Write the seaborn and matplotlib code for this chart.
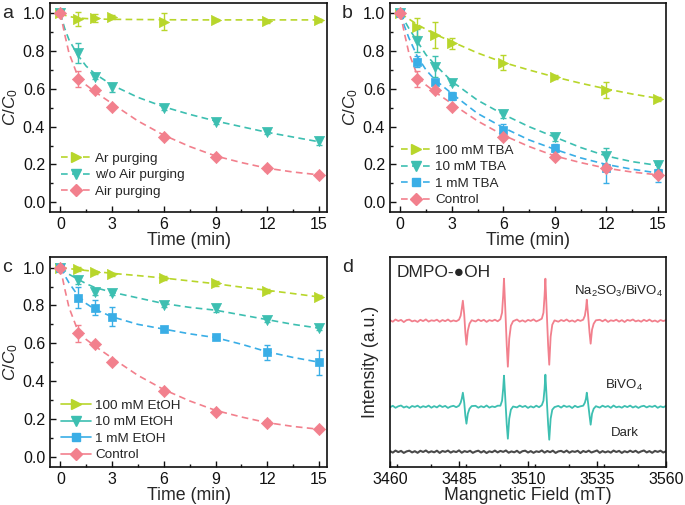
import numpy as np
import pandas as pd
import matplotlib
matplotlib.use("Agg")
import matplotlib.pyplot as plt
from matplotlib.lines import Line2D
from matplotlib.ticker import MultipleLocator
import seaborn as sns

# ---------------- data ----------------
T = [0, 1, 2, 3, 6, 9, 12, 15]
T_FIT = [0, 0.25, 0.5, 1, 1.5, 2, 3, 4.5, 6, 7.5, 9, 10.5, 12, 13.5, 15]

# panel a
a_labels = ["Ar purging", "w/o Air purging", "Air purging"]
a_ar = [1.0, 0.97, 0.975, 0.979, 0.955, 0.966, 0.958, 0.962]
a_ar_err = [0.0, 0.035, 0.02, 0.01, 0.045, 0.005, 0.008, 0.006]
a_ar_fit = [1.0, 0.99, 0.983, 0.975, 0.972, 0.97, 0.968, 0.967, 0.966, 0.965, 0.965, 0.965, 0.965, 0.965, 0.965]
a_wo = [1.0, 0.792, 0.661, 0.608, 0.497, 0.423, 0.370, 0.323]
a_wo_err = [0.0, 0.053, 0.01, 0.025, 0.01, 0.008, 0.008, 0.02]
a_wo_fit = [1.0, 0.92, 0.86, 0.78, 0.72, 0.68, 0.62, 0.555, 0.505, 0.465, 0.43, 0.40, 0.37, 0.345, 0.32]
control = [1.0, 0.653, 0.594, 0.503, 0.347, 0.238, 0.18, 0.145]
control_err = [0.0, 0.044, 0.01, 0.008, 0.01, 0.01, 0.012, 0.01]
control_fit = [1.0, 0.89, 0.79, 0.67, 0.62, 0.585, 0.522, 0.43, 0.355, 0.295, 0.245, 0.21, 0.18, 0.16, 0.145]

# panel b
b_labels = ["100 mM TBA", "10 mM TBA", "1 mM TBA", "Control"]
b_100 = [1.0, 0.929, 0.885, 0.841, 0.739, 0.661, 0.594, 0.547]
b_100_err = [0.0, 0.048, 0.068, 0.03, 0.04, 0.01, 0.042, 0.01]
b_100_fit = [1.0, 0.985, 0.97, 0.94, 0.915, 0.89, 0.85, 0.79, 0.74, 0.70, 0.663, 0.63, 0.60, 0.573, 0.55]
b_10 = [1.0, 0.855, 0.718, 0.63, 0.467, 0.344, 0.245, 0.196]
b_10_err = [0.0, 0.06, 0.056, 0.01, 0.02, 0.02, 0.04, 0.02]
b_10_fit = [1.0, 0.96, 0.92, 0.85, 0.78, 0.73, 0.64, 0.54, 0.465, 0.40, 0.345, 0.29, 0.245, 0.215, 0.195]
b_1 = [1.0, 0.744, 0.638, 0.563, 0.383, 0.286, 0.18, 0.157]
b_1_err = [0.0, 0.03, 0.01, 0.02, 0.03, 0.02, 0.078, 0.05]
b_1_fit = [1.0, 0.93, 0.87, 0.77, 0.70, 0.65, 0.575, 0.47, 0.395, 0.33, 0.28, 0.235, 0.20, 0.175, 0.155]

# panel c
c_labels = ["100 mM EtOH", "10 mM EtOH", "1 mM EtOH", "Control"]
c_100 = [1.0, 0.993, 0.975, 0.965, 0.944, 0.917, 0.878, 0.847]
c_100_err = [0.0, 0.01, 0.008, 0.008, 0.01, 0.012, 0.01, 0.01]
c_100_fit = [1.0, 0.998, 0.995, 0.99, 0.985, 0.98, 0.97, 0.958, 0.945, 0.93, 0.915, 0.897, 0.88, 0.863, 0.845]
c_10 = [1.0, 0.935, 0.873, 0.864, 0.802, 0.785, 0.723, 0.679]
c_10_err = [0.0, 0.02, 0.02, 0.01, 0.01, 0.02, 0.01, 0.01]
c_10_fit = [1.0, 0.985, 0.965, 0.94, 0.915, 0.895, 0.87, 0.84, 0.81, 0.79, 0.775, 0.75, 0.725, 0.70, 0.68]
c_1 = [1.0, 0.841, 0.788, 0.741, 0.675, 0.631, 0.552, 0.499]
c_1_err = [0.0, 0.057, 0.04, 0.05, 0.01, 0.01, 0.038, 0.065]
c_1_fit = [1.0, 0.96, 0.92, 0.855, 0.81, 0.78, 0.74, 0.70, 0.675, 0.65, 0.63, 0.595, 0.555, 0.525, 0.50]

# panel d (EPR spectra, intensity in arbitrary units, offsets are trace baselines)
d_labels = ["Na$_2$SO$_3$/BiVO$_4$", "BiVO$_4$", "Dark"]
FIELD = (list(range(3460, 3485))
         + [3485.0, 3485.6, 3486.0, 3486.4, 3486.9, 3487.3, 3487.7, 3488.2, 3488.8, 3489.6]
         + list(range(3491, 3500))
         + [3500.0, 3500.6, 3501.0, 3501.3, 3501.8, 3502.3, 3502.7, 3503.2, 3503.8, 3504.6]
         + list(range(3506, 3515))
         + [3515.0, 3515.6, 3516.0, 3516.3, 3516.8, 3517.3, 3517.7, 3518.2, 3518.8, 3519.6]
         + list(range(3521, 3530))
         + [3530.0, 3530.6, 3531.0, 3531.3, 3531.8, 3532.3, 3532.7, 3533.2, 3533.8, 3534.6]
         + list(range(3536, 3561)))
PINK_SPEC = ([0.5, -1.0, 1.2, -0.3, 0.8, -1.4, 0.6, 1.1, -0.7, 0.2, -1.2, 0.9, -0.4, 1.3, -0.9, 0.4, -0.2, 1.0, -1.1, 0.7, -0.5, 1.2, -0.8, 0.3, -0.6]
             + [1, 5, 12, 20, 6, -12, -24, -10, -3, 0.5]
             + [-0.8, 1.1, -0.4, 0.9, -1.2, 0.6, -0.3, 1.0, -0.6]
             + [1.5, 8, 25, 42, 10, -25, -46, -18, -5, -0.5]
             + [1.2, -0.9, 0.4, -1.1, 0.8, -0.2, 1.3, -0.7, 0.5]
             + [2, 8, 25, 42, 8, -25, -44, -16, -4, 0.3]
             + [-1.0, 0.7, -0.4, 1.2, -0.8, 0.3, -1.1, 0.9, -0.2]
             + [1, 5, 12, 21, 5, -12, -23, -9, -3, 0.4]
             + [0.9, -0.6, 1.1, -1.2, 0.4, -0.3, 1.0, -0.9, 0.6, -1.3, 0.8, -0.1, 1.2, -0.7, 0.3, -1.0, 0.9, -0.5, 1.1, -0.8, 0.2, -1.2, 0.7, -0.4, 0.6])
TEAL_SPEC = ([-0.6, 0.9, -1.1, 0.4, 1.2, -0.8, 0.3, -1.3, 0.7, -0.2, 1.0, -0.9, 0.5, -0.4, 1.1, -1.0, 0.6, -0.7, 1.3, -0.3, 0.8, -1.2, 0.2, 0.9, -0.5]
             + [1, 4, 8, 14, 4, -9, -17, -7, -2, 0.6]
             + [0.9, -1.0, 0.5, -0.6, 1.2, -0.9, 0.3, -0.4, 1.0]
             + [1, 6, 18, 31, 7, -18, -32, -12, -3, 0.2]
             + [-0.7, 1.1, -0.3, 0.8, -1.2, 0.4, -0.8, 1.0, -0.5]
             + [1.5, 6, 18, 32, 7, -18, -33, -12, -3, -0.4]
             + [0.8, -0.9, 1.1, -0.2, 0.6, -1.3, 0.9, -0.5, 0.4]
             + [1, 4, 8, 14, 3, -9, -18, -7, -2, 0.5]
             + [-0.9, 1.0, -0.3, 0.7, -1.1, 1.2, -0.6, 0.2, -1.0, 0.8, -0.4, 1.1, -0.8, 0.5, -1.2, 0.3, 0.9, -0.7, 0.6, -0.2, 1.0, -1.1, 0.4, -0.6, 0.8])
DARK_FIELD = list(range(3460, 3561))
DARK_SPEC = [0.6, -0.9, 1.1, -0.4, 0.8, -1.2, 0.3, 1.0, -0.7, 0.5,
             -1.1, 0.9, -0.3, 1.2, -0.8, 0.4, -0.6, 1.0, -1.2, 0.7,
             -0.2, 1.1, -0.9, 0.5, -0.4, 1.3, -1.0, 0.6, -0.3, 0.9,
             -1.1, 0.2, 1.0, -0.8, 0.7, -1.3, 0.4, -0.5, 1.1, -0.7,
             0.8, -0.2, 1.2, -1.0, 0.3, -0.6, 0.9, -1.2, 0.5, 1.0,
             -0.8, 0.6, -1.1, 0.4, -0.3, 1.2, -0.9, 0.7, -0.5, 1.0,
             -1.2, 0.3, 0.8, -0.6, 1.1, -1.0, 0.5, -0.2, 0.9, -1.3,
             0.7, -0.4, 1.0, -0.8, 0.2, 1.2, -1.1, 0.6, -0.7, 0.4,
             -0.9, 1.1, -0.3, 0.8, -1.2, 0.5, -0.6, 1.0, -0.4, 0.9,
             -1.0, 0.3, 1.2, -0.7, 0.6, -1.1, 0.8, -0.2, 1.0, -0.8,
             0.4]
D_OFFSETS = [146, 60, 15]

X_TICKS = [0, 3, 6, 9, 12, 15]
Y_TICKS = [0.0, 0.2, 0.4, 0.6, 0.8, 1.0]
D_TICKS = [3460, 3485, 3510, 3535, 3560]

# ---------------- style ----------------
GREEN = "#B8D62B"
TEAL = "#3DBFB1"
BLUE = "#3AAEE6"
PINK = "#F2808D"
DARK = "#4A4A4A"

sns.set_style("ticks")
plt.rcParams["font.family"] = ["Liberation Sans", "DejaVu Sans"]
plt.rcParams["mathtext.fontset"] = "custom"
plt.rcParams["mathtext.rm"] = "Liberation Sans"
plt.rcParams["mathtext.it"] = "Liberation Sans:italic"
plt.rcParams["lines.dashed_pattern"] = [4.0, 2.6]
plt.rcParams["axes.linewidth"] = 1.2
plt.rcParams["axes.edgecolor"] = "#111111"

fig = plt.figure(figsize=(6.85, 5.05), dpi=100)
W, H = 685.0, 505.0


def add_ax(x0, y0, x1, y1):
    return fig.add_axes([x0 / W, 1 - y1 / H, (x1 - x0) / W, (y1 - y0) / H])


ax_a = add_ax(50, 2.7, 327.3, 211.7)
ax_b = add_ax(390, 2.7, 666, 211.7)
ax_c = add_ax(50, 256.7, 327.3, 466.7)
ax_d = add_ax(390, 256.7, 666, 466.7)


def style_kinetic(ax, ylim):
    ax.set_xlim(-0.6, 15.48)
    ax.set_ylim(*ylim)
    ax.set_xticks(X_TICKS)
    ax.set_yticks(Y_TICKS)
    ax.set_yticklabels([f"{v:.1f}" for v in Y_TICKS])
    ax.xaxis.set_minor_locator(MultipleLocator(1.5))
    ax.yaxis.set_minor_locator(MultipleLocator(0.1))
    ax.tick_params(which="both", direction="in", labelsize=11.5, colors="#111111", width=1.0)
    ax.tick_params(which="major", length=4)
    ax.tick_params(which="minor", length=2)
    ax.set_xlabel("Time (min)", fontsize=12.8, labelpad=0)
    ax.set_ylabel("$C$/$C_0$", fontsize=12.3, labelpad=2)
    for s in ax.spines.values():
        s.set_visible(True)


def draw_series(ax, y, err, fit, color, marker, ms):
    sns.lineplot(x=T_FIT, y=fit, ax=ax, color=color, linestyle="--", linewidth=1.2, zorder=2)
    ax.errorbar(T, y, yerr=err, fmt="none", ecolor=color, elinewidth=1.0, capsize=2.5, capthick=1.0, zorder=3)
    sns.scatterplot(x=T, y=y, ax=ax, marker=marker, s=ms ** 2, color=color, edgecolor=color, linewidth=0.5, zorder=4)


def legend(ax, colors, markers, sizes, labels, ls, bbox):
    handles = [Line2D([], [], color=c, marker=m, markersize=s, linestyle=ls, linewidth=1.2)
               for c, m, s in zip(colors, markers, sizes)]
    ax.legend(handles, labels, loc="lower left", bbox_to_anchor=bbox, frameon=False,
              fontsize=9.7, handlelength=2.2, handletextpad=0.35, labelspacing=0.3,
              borderaxespad=0.0)


# panel a
draw_series(ax_a, a_ar, a_ar_err, a_ar_fit, GREEN, ">", 7.3)
draw_series(ax_a, a_wo, a_wo_err, a_wo_fit, TEAL, "v", 7.3)
draw_series(ax_a, control, control_err, control_fit, PINK, "D", 6.2)
style_kinetic(ax_a, (-0.05, 1.056))
legend(ax_a, [GREEN, TEAL, PINK], [">", "v", "D"], [7.3, 7.3, 6.2], a_labels, "--", (0.02, 0.04))

# panel b
draw_series(ax_b, b_100, b_100_err, b_100_fit, GREEN, ">", 7.3)
draw_series(ax_b, b_10, b_10_err, b_10_fit, TEAL, "v", 7.3)
draw_series(ax_b, b_1, b_1_err, b_1_fit, BLUE, "s", 6)
draw_series(ax_b, control, control_err, control_fit, PINK, "D", 6.2)
style_kinetic(ax_b, (-0.05, 1.056))
legend(ax_b, [GREEN, TEAL, BLUE, PINK], [">", "v", "s", "D"], [7.3, 7.3, 6, 6.2], b_labels, "--", (0.02, 0.0))

# panel c
draw_series(ax_c, c_100, c_100_err, c_100_fit, GREEN, ">", 7.3)
draw_series(ax_c, c_10, c_10_err, c_10_fit, TEAL, "v", 7.3)
draw_series(ax_c, c_1, c_1_err, c_1_fit, BLUE, "s", 6)
draw_series(ax_c, control, control_err, control_fit, PINK, "D", 6.2)
style_kinetic(ax_c, (-0.053, 1.058))
legend(ax_c, [GREEN, TEAL, BLUE, PINK], [">", "v", "s", "D"], [7.3, 7.3, 6, 6.2], c_labels, "-", (0.02, 0.0))

# panel d
pink_df = pd.DataFrame({"field": FIELD, "I": np.array(PINK_SPEC) + D_OFFSETS[0]})
teal_df = pd.DataFrame({"field": FIELD, "I": np.array(TEAL_SPEC) + D_OFFSETS[1]})
dark_df = pd.DataFrame({"field": DARK_FIELD, "I": np.array(DARK_SPEC) + D_OFFSETS[2]})
sns.lineplot(data=pink_df, x="field", y="I", ax=ax_d, color=PINK, linewidth=1.3, sort=False)
sns.lineplot(data=teal_df, x="field", y="I", ax=ax_d, color=TEAL, linewidth=1.3, sort=False)
sns.lineplot(data=dark_df, x="field", y="I", ax=ax_d, color=DARK, linewidth=1.5, sort=False)
ax_d.set_xlim(3460, 3560)
ax_d.set_ylim(0, 210)
ax_d.set_xticks(D_TICKS)
ax_d.xaxis.set_minor_locator(MultipleLocator(12.5))
ax_d.set_yticks([])
ax_d.tick_params(which="both", direction="in", labelsize=11.5, colors="#111111", width=1.0)
ax_d.tick_params(which="major", length=4)
ax_d.tick_params(which="minor", length=2)
ax_d.set_xlabel("Mangnetic Field (mT)", fontsize=12.8, labelpad=0)
ax_d.set_ylabel("Intensity (a.u.)", fontsize=12.8, labelpad=8)
ax_d.text(0.025, 0.925, "DMPO-\u25CFOH", transform=ax_d.transAxes, fontsize=12.5, va="center", ha="left",
          family=["Liberation Sans", "DejaVu Sans"])
ax_d.text(0.99, 0.833, d_labels[0], transform=ax_d.transAxes, fontsize=9.5, va="center", ha="right")
ax_d.text(0.848, 0.389, d_labels[1], transform=ax_d.transAxes, fontsize=9.5, va="center", ha="center")
ax_d.text(0.851, 0.16, d_labels[2], transform=ax_d.transAxes, fontsize=9.5, va="center", ha="center")

# panel letters
for letter, (px, py) in zip("abcd", [(2, 14), (342, 14), (2, 268), (342, 268)]):
    fig.text(px / W, 1 - py / H, letter, fontsize=14, va="center", ha="left")

fig.savefig("out.png", dpi=100)
